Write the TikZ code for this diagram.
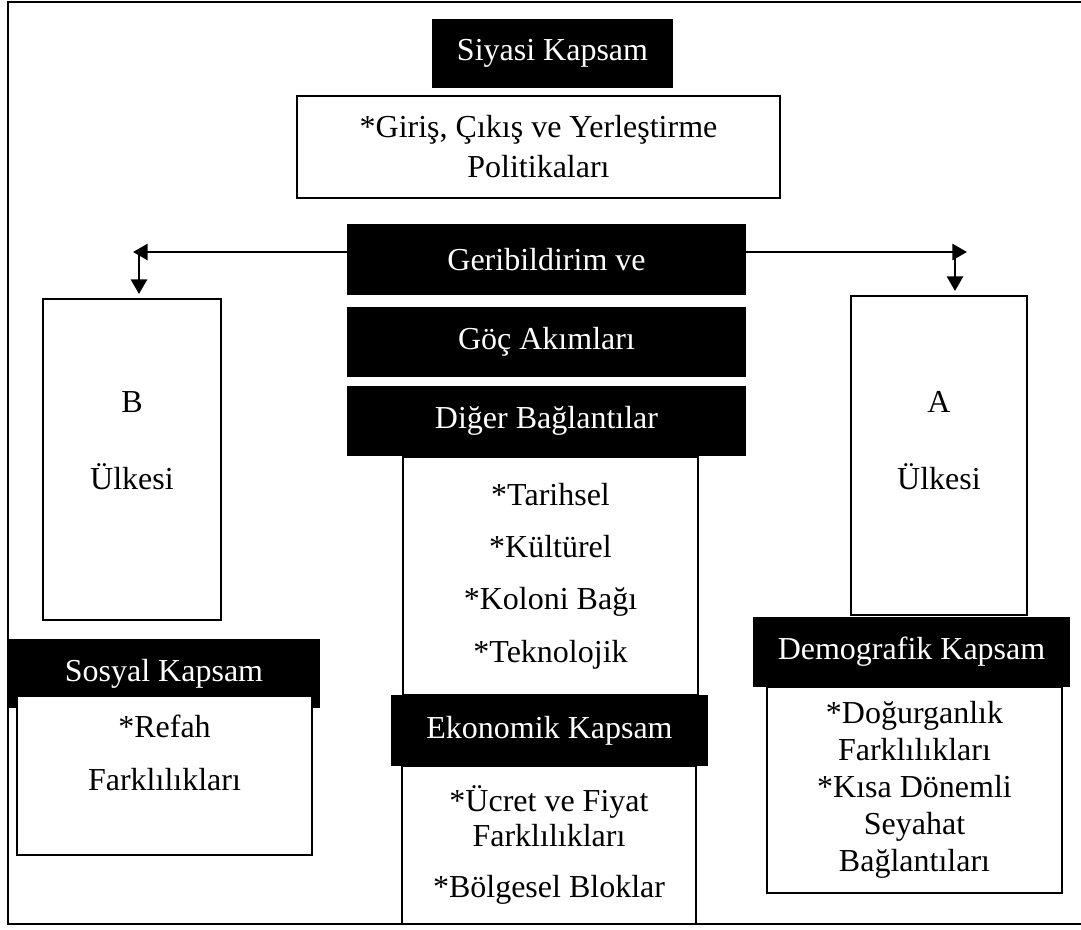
\documentclass[tikz,border=0pt]{standalone}
\usepackage{fontspec}
\setmainfont{Liberation Serif}
\usetikzlibrary{arrows.meta, positioning}

\newcommand\boxfont[1]{\fontsize{24pt}{#1}\selectfont}

\begin{document}
\begin{tikzpicture}[
      x=0.75pt, y=-0.75pt,
      every node/.style = {font=\boxfont{28pt}},
      box size/.style 2 args = {minimum width=#1*0.75pt,
                                minimum height=#2*0.75pt},
      dark box/.style = {fill=black, text=white, inner sep=0pt, align=center},
      light box/.style = {draw, fill=white, line width=1.5pt, inner sep=0pt,
                          align=center},
      box text/.style = {inner sep=0pt, align=center},
      frame/.style = {line width=2.2pt},
      feedback/.style = {line width=2.2pt,
                         arrows={-Triangle[length=11pt, width=12pt]}},
    ]
    \useasboundingbox (0,0) rectangle (1081,929);

    %% Outer frame (open on the right)
    \draw [frame] (1081,2) -- (8,2) -- (8,924) -- (1081,924);

    %% Political scope at the top
    \node (siyasi) [dark box, box size={241}{69}] at (552.5,53.5)
      {Siyasi Kapsam};
    \node (politika) [light box, box size={483}{102}, font=\boxfont{30pt}]
      at (538.5,147)
      {*Giriş, Çıkış ve Yerleştirme\\{}Politikaları};

    %% Central column
    \node (geri) [dark box, box size={399}{71}] at (546.5,259.5)
      {Geribildirim ve};
    \node (goc) [dark box, box size={399}{70}] at (546.5,342)
      {Göç Akımları};
    \node (diger) [dark box, box size={399}{70}] at (546.5,421)
      {Diğer Bağlantılar};
    \node (bag) [light box, box size={295}{238}, font=\boxfont{39.2pt}]
      at (550.5,576)
      {*Tarihsel\\{}*Kültürel\\{}*Koloni Bağı\\{}*Teknolojik};
    \node (ekon) [dark box, box size={317}{71}] at (549.5,730.5)
      {Ekonomik Kapsam};
    \node (ekonlist) [light box, box size={294}{158}, font=\boxfont{26.25pt}]
      at (549,845)
      {*Ücret ve Fiyat\\{}Farklılıkları\\[12pt]{}*Bölgesel Bloklar};

    %% Country B and the social scope
    \node (bland) [light box, box size={178}{321}] at (132,459.5) {};
    \node (bname) [box text, font=\boxfont{57.75pt}] at (132,441)
      {B\\{}Ülkesi};
    \node (sosyal) [dark box, box size={312}{69}] at (164,673.5)
      {Sosyal Kapsam};
    \node (sosyallist) [light box, box size={295}{159}] at (164.5,775.5) {};
    \node (sosyaltext) [box text, font=\boxfont{39.75pt}] at (164.5,752.75)
      {*Refah\\{}Farklılıkları};

    %% Country A and the demographic scope
    \node (aland) [light box, box size={176}{319}] at (939,455.5) {};
    \node (aname) [box text, font=\boxfont{57.75pt}] at (939,441)
      {A\\{}Ülkesi};
    \node (demog) [dark box, box size={317}{70}] at (911.5,652)
      {Demografik Kapsam};
    \node (demoglist) [light box, box size={295}{206}, font=\boxfont{27.75pt}]
      at (914.5,790)
      {*Doğurganlık\\{}Farklılıkları\\{}*Kısa Dönemli\\{}Seyahat\\{}Bağlantıları};

    %% Feedback arrows towards both countries
    \coordinate (ltip) at (133,252);
    \coordinate (lturn) at (139,252);
    \coordinate (rtip) at (967,252);
    \coordinate (rturn) at (955,252);
    \draw [feedback] (geri.west |- ltip) -- (ltip);
    \draw [feedback] (geri.east |- rtip) -- (rtip);
    \draw [feedback, shorten >=3pt] (lturn) -- (lturn |- bland.north);
    \draw [feedback, shorten >=3pt] (rturn) -- (rturn |- aland.north);
  \end{tikzpicture}
\end{document}
